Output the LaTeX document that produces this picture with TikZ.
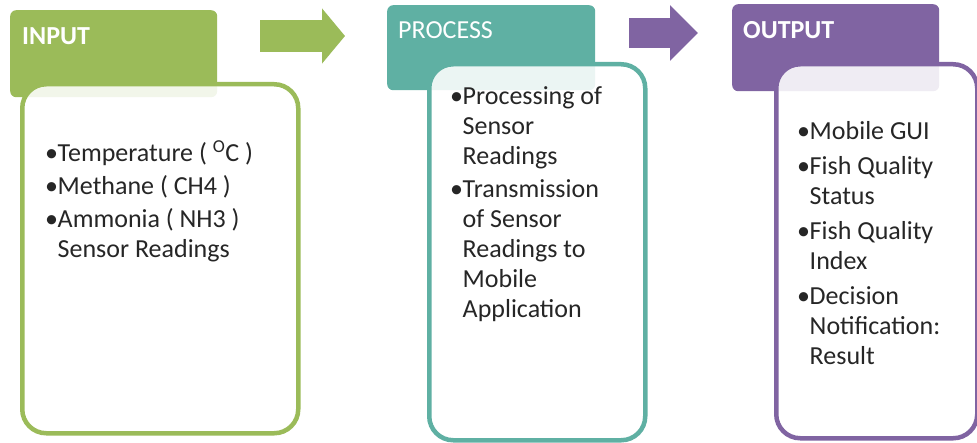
\documentclass[tikz,border=0pt]{standalone}
\usepackage{fontspec}
\setmainfont{Carlito}
\usepackage{tikz}
\usetikzlibrary{arrows.meta,positioning}
\definecolor{inGreen}{HTML}{9BBB59}
\definecolor{procTeal}{HTML}{5FB0A3}
\definecolor{outPurple}{HTML}{8064A2}
\definecolor{bodyText}{HTML}{262626}

% one bullet point, wrapped lines kept under the text
\newcommand{\bpoint}[1]{\par\hangindent=12.5pt\hangafter=1\noindent\makebox[12.5pt][l]{\textbullet}#1\par}

\begin{document}
\begin{tikzpicture}[x=1pt, y=-1pt,
  headbox/.style={rounded corners=6pt, minimum width=207pt, minimum height=87pt, anchor=north west, inner sep=0pt},
  listbox/.style={draw=#1, line width=4.5pt, rounded corners=24pt, fill=white, fill opacity=0.88, draw opacity=1, anchor=north west, inner sep=0pt},
  headtext/.style={text=white, anchor=base west, inner sep=0pt, font=\fontsize{26}{30}\selectfont},
  listtext/.style={text=bodyText, anchor=base west, inner sep=0pt, font=\fontsize{26}{30}\selectfont},
  blockarr/.style={line width=#1, -{Triangle[width=54pt, length=\arrlen]}}
]
  \useasboundingbox (0,0) rectangle (977,443);

  % headers
  \node[headbox, fill=inGreen] (inhead) at (10,10) {};
  \node[headbox, fill=procTeal, minimum width=208pt, minimum height=85pt] (prochead) at (387,5) {};
  \node[headbox, fill=outPurple] (outhead) at (732,4) {};

  % list boxes over the headers
  \node[listbox=inGreen, minimum width=276pt, minimum height=349pt] (inbox) at (20,82) {};
  \node[listbox=procTeal, minimum width=216pt, minimum height=376pt] (procbox) at (427,62) {};
  \node[listbox=outPurple, minimum width=201pt, minimum height=374pt] (outbox) at (774,62) {};

  \node[headtext, font=\fontsize{26}{30}\selectfont\bfseries] (inlabel) at (22,45) {INPUT};
  \node[headtext] (proclabel) at (398,39) {PROCESS};
  \node[headtext, font=\fontsize{26}{30}\selectfont\bfseries] (outlabel) at (743,39) {OUTPUT};

  \node[listtext] (inlist) at (45,162) {\vtop{\hsize=245pt \parskip=3pt
    \bpoint{Temperature ( \textsuperscript{O}C )}
    \bpoint{Methane ( CH4 )}
    \bpoint{Ammonia ( NH3 )\newline Sensor Readings}}};
  \node[listtext] (proclist) at (450,105) {\vtop{\hsize=190pt \parskip=3pt
    \bpoint{Processing of\newline Sensor\newline Readings}
    \bpoint{Transmission\newline of Sensor\newline Readings to\newline Mobile\newline Application}}};
  \node[listtext] (outlist) at (797,140) {\vtop{\hsize=175pt \parskip=5pt
    \bpoint{Mobile GUI}
    \bpoint{Fish Quality\newline Status}
    \bpoint{Fish Quality\newline Index}
    \bpoint{Decision\newline Notification:\newline Result}}};

  % block arrows between the stages
  \coordinate (garrs) at (260,36);
  \coordinate (garre) at (345,36);
  \coordinate (parrs) at (629,33);
  \coordinate (parre) at (698,33);
  \def\arrlen{23pt}
  \draw[blockarr=32pt, inGreen] (garrs) -- (garre);
  \def\arrlen{28pt}
  \draw[blockarr=30pt, outPurple] (parrs) -- (parre);
\end{tikzpicture}
\end{document}
